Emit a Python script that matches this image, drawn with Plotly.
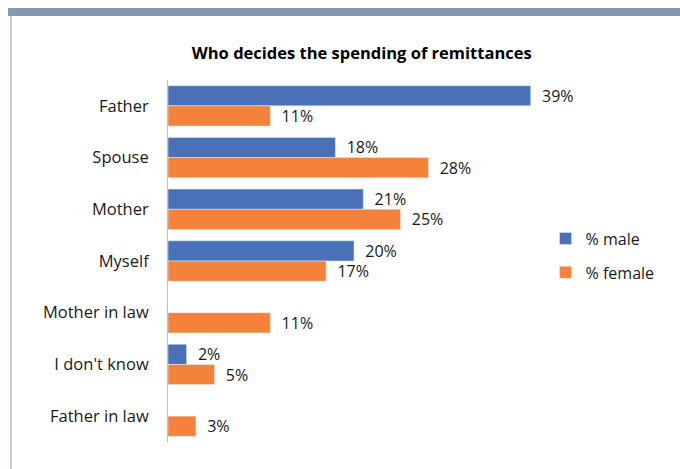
import plotly.graph_objects as go

categories = ["Father", "Spouse", "Mother", "Myself", "Mother in law", "I don't know", "Father in law"]
male_pct = [39, 18, 21, 20, None, 2, None]
female_pct = [11, 28, 25, 17, 11, 5, 3]

BLUE = "#4A70B8"
ORANGE = "#F4823A"
FONT = "Open Sans"
TXT = "#1a1a1a"

fig = go.Figure()
fig.add_trace(go.Bar(
    y=categories, x=male_pct, orientation="h", name="% male",
    marker_color=BLUE, legendgroup="m",
    texttemplate="  %{x}%", textposition="outside", cliponaxis=False,
    constraintext="none",
    textfont=dict(family=FONT, size=16, color=TXT),
))
fig.add_trace(go.Bar(
    y=categories, x=female_pct, orientation="h", name="% female",
    marker_color=ORANGE, legendgroup="f",
    texttemplate="  %{x}%", textposition="outside", cliponaxis=False,
    constraintext="none",
    textfont=dict(family=FONT, size=16, color=TXT),
))

# plot area spans x 168..540, y 80..442 in a 680x469 page
fig.update_layout(
    width=680, height=469,
    margin=dict(l=168, r=140, t=80, b=27),
    paper_bgcolor="white", plot_bgcolor="white",
    barmode="group", bargap=0.22, bargroupgap=0,
    title=dict(text="<b>Who decides the spending of remittances</b>",
               x=0.532, xanchor="center", y=0.887, yanchor="middle",
               font=dict(family=FONT, size=16.5, color="#000")),
    font=dict(family=FONT, size=16, color=TXT),
    showlegend=True,
    legend=dict(x=1.015, xanchor="left", y=0.515, yanchor="middle",
                traceorder="grouped", tracegroupgap=10,
                font=dict(family=FONT, size=16, color=TXT),
                itemwidth=30),
    xaxis=dict(visible=False, range=[0, 40]),
    yaxis=dict(autorange="reversed", showline=True, linecolor="#BFBFBF",
               linewidth=1, ticks="", showgrid=False, ticklabelstandoff=15,
               tickfont=dict(family=FONT, size=16.5, color=TXT)),
    shapes=[
        # header band along the top
        dict(type="rect", xref="paper", yref="paper",
             x0=-0.43, x1=1.38, y0=1.177, y1=1.199,
             fillcolor="#8399B0", line_width=0, layer="above"),
        # thin frame line on the left
        dict(type="line", xref="paper", yref="paper",
             x0=-0.422, x1=-0.422, y0=-0.08, y1=1.177,
             line=dict(color="#C5D0DC", width=2)),
    ],
)

fig.write_html("out.html")
